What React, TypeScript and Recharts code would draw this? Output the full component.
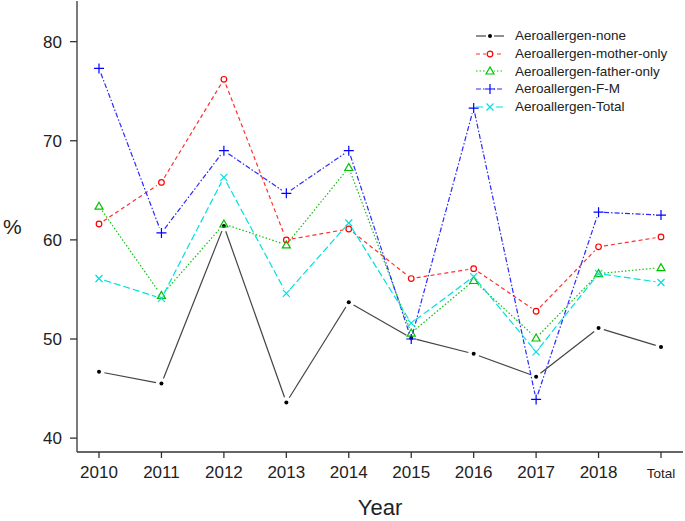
import React from "react";
import { LineChart, Line, XAxis, YAxis } from "recharts";

// values (%)
const years = ["2010", "2011", "2012", "2013", "2014", "2015", "2016", "2017", "2018", "Total"];
const noneValues = [46.7, 45.5, 61.4, 43.6, 53.7, 50.1, 48.5, 46.2, 51.1, 49.2];
const motherOnlyValues = [61.6, 65.8, 76.2, 60.0, 61.1, 56.1, 57.1, 52.8, 59.3, 60.3];
const fatherOnlyValues = [63.4, 54.4, 61.6, 59.5, 67.3, 50.6, 55.9, 50.1, 56.6, 57.2];
const fmValues = [77.3, 60.7, 69.0, 64.7, 69.0, 50.0, 73.3, 43.9, 62.8, 62.5];
const totalValues = [56.1, 54.1, 66.3, 54.6, 61.7, 51.6, 56.3, 48.7, 56.6, 55.7];
const yTicks = [40, 50, 60, 70, 80];

const data = years.map((year, i) => ({
    year,
    none: noneValues[i],
    mother: motherOnlyValues[i],
    father: fatherOnlyValues[i],
    fm: fmValues[i],
    total: totalValues[i],
}));

type Marker = "dot" | "circle" | "triangle" | "plus" | "cross";

const series: { key: string; name: string; color: string; line: string; dash: string; marker: Marker }[] = [
    { key: "none", name: "Aeroallergen-none", color: "#000000", line: "#444444", dash: "", marker: "dot" },
    { key: "mother", name: "Aeroallergen-mother-only", color: "#ff0000", line: "#ff3030", dash: "4 3", marker: "circle" },
    { key: "father", name: "Aeroallergen-father-only", color: "#00c000", line: "#10c010", dash: "1.5 2", marker: "triangle" },
    { key: "fm", name: "Aeroallergen-F-M", color: "#0000ff", line: "#2a2aff", dash: "5 2 1.5 2", marker: "plus" },
    { key: "total", name: "Aeroallergen-Total", color: "#00e0e0", line: "#00e0e0", dash: "7 3", marker: "cross" },
];

const FONT = "'Liberation Sans', Arial, sans-serif";
const GAP = 5.5;

function drawMarker(m: Marker, x: number, y: number, color: string) {
    switch (m) {
        case "dot":
            return <circle cx={x} cy={y} r={2} fill={color} />;
        case "circle":
            return <circle cx={x} cy={y} r={2.8} fill="none" stroke={color} strokeWidth={1.2} />;
        case "triangle":
            return (
                <polygon
                    points={`${x},${y - 4} ${x - 4},${y + 3} ${x + 4},${y + 3}`}
                    fill="none"
                    stroke={color}
                    strokeWidth={1.2}
                />
            );
        case "plus":
            return (
                <path d={`M${x - 5},${y}H${x + 5}M${x},${y - 5}V${y + 5}`} stroke={color} strokeWidth={1.2} />
            );
        case "cross":
            return (
                <path
                    d={`M${x - 3.5},${y - 3.5}L${x + 3.5},${y + 3.5}M${x - 3.5},${y + 3.5}L${x + 3.5},${y - 3.5}`}
                    stroke={color}
                    strokeWidth={1.2}
                />
            );
    }
}

// R type="b": marker plus a segment to the next point, with a gap at both ends
function makeDot(s: (typeof series)[number]) {
    return (props: any) => {
        const { cx, cy, index, points } = props;
        const next = points && points[index + 1];
        let seg = null;
        if (next) {
            const dx = next.x - cx;
            const dy = next.y - cy;
            const len = Math.sqrt(dx * dx + dy * dy);
            if (len > GAP * 2) {
                const ux = dx / len;
                const uy = dy / len;
                seg = (
                    <line
                        x1={cx + ux * GAP}
                        y1={cy + uy * GAP}
                        x2={next.x - ux * GAP}
                        y2={next.y - uy * GAP}
                        stroke={s.line}
                        strokeWidth={1.2}
                        strokeDasharray={s.dash || undefined}
                    />
                );
            }
        }
        return (
            <g key={`${s.key}-${index}`}>
                {seg}
                {drawMarker(s.marker, cx, cy, s.color)}
            </g>
        );
    };
}

function YearTick(props: any) {
    const { x, y, payload } = props;
    const small = payload.value === "Total";
    return (
        <text x={x} y={y} dy={12} textAnchor="middle" fontSize={small ? 13.5 : 17} fill="#222" fontFamily={FONT}>
            {payload.value}
        </text>
    );
}

function LegendBox() {
    return (
        <div style={{ position: "absolute", left: 470, top: 27, fontFamily: FONT, fontSize: 13.5, color: "#222" }}>
            {series.map((s) => (
                <div key={s.key} style={{ display: "flex", alignItems: "center", height: 17.7 }}>
                    <svg width={40} height={17.7} style={{ display: "block" }}>
                        <line x1={6} x2={34} y1={9} y2={9} stroke={s.line} strokeWidth={1.2} strokeDasharray={s.dash || undefined} />
                        <rect x={16} y={4} width={8} height={10} fill="#fff" />
                        {drawMarker(s.marker, 20, 9, s.color)}
                    </svg>
                    <span style={{ marginLeft: 5, whiteSpace: "nowrap" }}>{s.name}</span>
                </div>
            ))}
        </div>
    );
}

export default function App() {
    return (
        <div style={{ position: "absolute", left: 0, top: 0, width: 685, height: 521, background: "#fff" }}>
            <LineChart width={685} height={521} data={data} margin={{ top: 1, right: 2, left: 0, bottom: 0 }}>
                <XAxis
                    dataKey="year"
                    height={69}
                    padding={{ left: 22, right: 22 }}
                    stroke="#333"
                    strokeWidth={1.3}
                    tickSize={6}
                    tickMargin={8}
                    tick={<YearTick />}
                    interval={0}
                    label={{ value: "Year", position: "insideBottom", offset: 6, fontSize: 22, fill: "#222", fontFamily: FONT }}
                />
                <YAxis
                    width={77}
                    domain={[38.6, 84.1]}
                    ticks={yTicks}
                    allowDataOverflow
                    stroke="#333"
                    strokeWidth={1.3}
                    tickSize={7}
                    tickMargin={8}
                    tick={{ fontSize: 17, fill: "#222", fontFamily: FONT }}
                    label={{ value: "%", position: "insideLeft", offset: 3, fontSize: 21, fill: "#222", fontFamily: FONT }}
                />
                {series.map((s) => (
                    <Line
                        key={s.key}
                        dataKey={s.key}
                        name={s.name}
                        type="linear"
                        stroke="none"
                        dot={makeDot(s)}
                        activeDot={false}
                        isAnimationActive={false}
                    />
                ))}
            </LineChart>
            <LegendBox />
        </div>
    );
}
